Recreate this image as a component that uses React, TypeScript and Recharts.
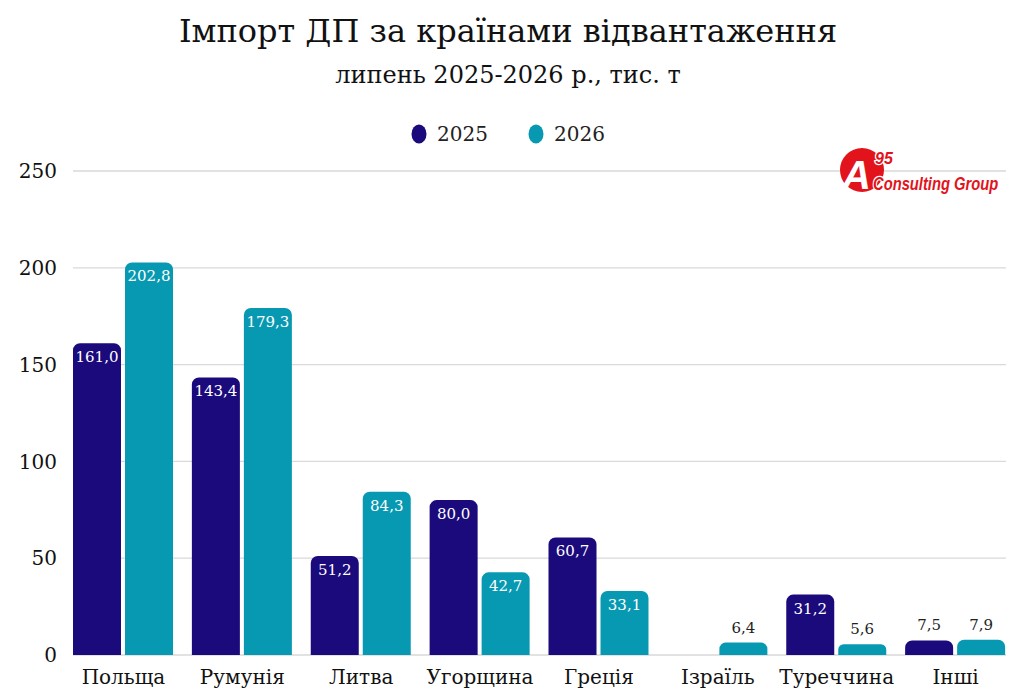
import React from "react";
import { BarChart, Bar, XAxis, YAxis, CartesianGrid, LabelList } from "recharts";

const categories = ["Польща", "Румунія", "Литва", "Угорщина", "Греція", "Ізраїль", "Туреччина", "Інші"];
const values2025: (number | null)[] = [161.0, 143.4, 51.2, 80.0, 60.7, null, 31.2, 7.5];
const values2026: number[] = [202.8, 179.3, 84.3, 42.7, 33.1, 6.4, 5.6, 7.9];
const yTicks = [0, 50, 100, 150, 200, 250];
const seriesNames = ["2025", "2026"];

const C2025 = "#1B0A7C";
const C2026 = "#0899B2";
const FONT = "'DejaVu Serif', serif";

const data = categories.map((c, i) => ({ name: c, y2025: values2025[i], y2026: values2026[i] }));

const fmt = (v: number) => v.toFixed(1).replace(".", ",");

const renderLabel = (props: any) => {
  const { x, y, width, value } = props;
  if (value === null || value === undefined) return null;
  const cx = Number(x) + Number(width) / 2;
  const inside = value > 20;
  return (
    <text
      x={cx}
      y={inside ? Number(y) + 19 : Number(y) - 10}
      textAnchor="middle"
      fontSize={15}
      fontFamily={FONT}
      fill={inside ? "#ffffff" : "#222222"}
    >
      {fmt(Number(value))}
    </text>
  );
};

const LegendBlock = () => (
  <div style={{ position: "absolute", left: 0, top: 122, width: 1016, display: "flex", justifyContent: "center", alignItems: "center", fontFamily: FONT, fontSize: 20, color: "#222" }}>
    {seriesNames.map((n, i) => (
      <div key={n} style={{ display: "flex", alignItems: "center", marginLeft: i ? 40 : 0 }}>
        <svg width={16} height={20} style={{ marginRight: 10 }}>
          <ellipse cx={8} cy={10} rx={7.5} ry={9.5} fill={i ? C2026 : C2025} />
        </svg>
        <span>{n}</span>
      </div>
    ))}
  </div>
);

const LOGO_FONT = "'Liberation Sans', Arial, sans-serif";

const Logo = () => (
  <svg width={186} height={64} style={{ position: "absolute", left: 836, top: 140 }}>
    <circle cx={26} cy={30} r={22} fill="#E3131B" />
    <text x={6} y={49} fontFamily={LOGO_FONT} fontWeight="bold" fontStyle="italic" fontSize={40} fill="#ffffff">
      A
    </text>
    <text x={39} y={24} fontFamily={LOGO_FONT} fontWeight="bold" fontStyle="italic" fontSize={16} fill="#E3131B" stroke="#ffffff" strokeWidth={2.5} paintOrder="stroke">
      95
    </text>
    <g transform="translate(37,50) scale(0.82,1)">
      <text x={0} y={0} fontFamily={LOGO_FONT} fontWeight="bold" fontStyle="italic" fontSize={18} fill="#E3131B" stroke="#ffffff" strokeWidth={2.5} paintOrder="stroke">
        Consulting Group
      </text>
    </g>
  </svg>
);

export default function App() {
  return (
    <div style={{ position: "absolute", left: 0, top: 0, width: 1024, height: 699, background: "#fff", overflow: "hidden" }}>
      <div style={{ position: "absolute", left: 0, top: 12, width: 1016, textAlign: "center", fontFamily: FONT, fontSize: 32, color: "#111" }}>
        Імпорт ДП за країнами відвантаження
      </div>
      <div style={{ position: "absolute", left: 0, top: 61, width: 1016, textAlign: "center", fontFamily: FONT, fontSize: 24, color: "#111" }}>
        липень 2025-2026 р., тис. т
      </div>
      <LegendBlock />
      <BarChart
        width={1024}
        height={699}
        data={data}
        margin={{ top: 171, right: 18, bottom: 14, left: 0 }}
        barGap={4}
        barSize={48}
      >
        <CartesianGrid vertical={false} stroke="#d9d9d9" strokeWidth={1.3} />
        <XAxis
          dataKey="name"
          axisLine={false}
          tickLine={false}
          tickSize={0}
          tickMargin={15}
          height={30}
          interval={0}
          padding={{ left: -9, right: -9 }}
          tick={{ fontFamily: FONT, fontSize: 20, fill: "#111" }}
        />
        <YAxis
          domain={[0, 250]}
          ticks={yTicks}
          width={73}
          axisLine={false}
          tickLine={false}
          tickSize={0}
          tickMargin={16}
          tick={{ fontFamily: FONT, fontSize: 20, fill: "#111" }}
        />
        <Bar dataKey="y2025" name="2025" fill={C2025} radius={[7, 7, 0, 0]} isAnimationActive={false}>
          <LabelList dataKey="y2025" content={renderLabel} />
        </Bar>
        <Bar dataKey="y2026" name="2026" fill={C2026} radius={[7, 7, 0, 0]} isAnimationActive={false}>
          <LabelList dataKey="y2026" content={renderLabel} />
        </Bar>
      </BarChart>
      <Logo />
    </div>
  );
}
